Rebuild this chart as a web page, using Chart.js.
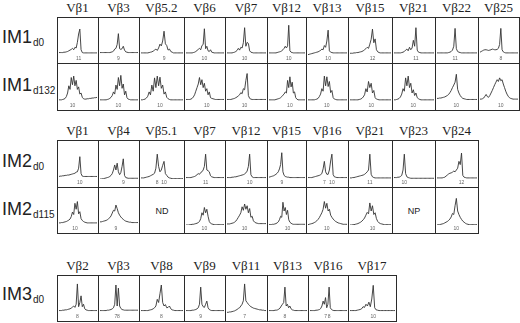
<!DOCTYPE html>
<html>
<head>
<meta charset="utf-8">
<script src="https://cdn.jsdelivr.net/npm/chart.js@4.4.0/dist/chart.umd.min.js"></script>
<style>
  body { margin: 0; width: 520px; height: 323px; background: #fff; position: relative; overflow: hidden; font-family: "Liberation Sans", Arial, sans-serif; }
  .box { position: absolute; box-sizing: border-box; border: 1px solid #2b2b2b; }
  .box canvas { position: absolute; left: 0; top: 0; }
  .head { position: absolute; text-align: center; font-family: "Liberation Serif", "Times New Roman", serif; font-size: 13px; line-height: 14px; color: #222; white-space: nowrap; }
  .row { position: absolute; left: 2px; font-size: 18px; line-height: 18px; color: #222; white-space: nowrap; }
  .row sub { font-size: 10px; vertical-align: baseline; position: relative; top: 3px; margin-left: 1px; }
  .na { position: absolute; left: 0; right: 0; top: 0; bottom: 0; display: flex; align-items: center; justify-content: center; font-size: 9px; color: #222; }
</style>
</head>
<body>
<script>
// Vβ families per patient
const im1Heads = ['Vβ1', 'Vβ3', 'Vβ5.2', 'Vβ6', 'Vβ7', 'Vβ12', 'Vβ13', 'Vβ15', 'Vβ21', 'Vβ22', 'Vβ25'];
const im2Heads = ['Vβ1', 'Vβ4', 'Vβ5.1', 'Vβ7', 'Vβ12', 'Vβ15', 'Vβ16', 'Vβ21', 'Vβ23', 'Vβ24'];
const im3Heads = ['Vβ2', 'Vβ3', 'Vβ8', 'Vβ9', 'Vβ11', 'Vβ13', 'Vβ16', 'Vβ17'];

// CDR3 length profiles (32 samples per trace), 'ND' / 'NP' when there is no trace
const im1d0 = [
  [0.7,0.7,0.7,0.7,0.8,0.8,0.9,1.0,1.2,1.4,1.6,1.9,1.5,2.2,2.0,3.6,6.0,7.4,1.5,0.7,0.6,0.6,0.6,0.6,0.6,0.6,0.6,0.6,0.6,0.6,0.6,0.6],
  [0.7,0.7,0.7,0.7,0.7,0.7,0.7,0.7,0.7,0.8,0.9,1.1,1.7,1.9,3.0,6.1,1.8,1.6,1.8,2.5,1.4,0.9,0.8,0.7,0.7,0.7,0.7,0.7,0.7,0.7,0.7,0.7],
  [0.6,0.6,0.6,0.6,0.6,0.6,0.7,0.8,0.9,1.1,1.4,1.7,1.3,2.0,3.1,2.6,4.0,6.8,3.2,2.7,1.4,1.7,1.0,0.8,0.6,0.6,0.6,0.6,0.6,0.6,0.6,0.6],
  [0.6,0.6,0.6,0.6,0.6,0.6,0.7,0.8,1.0,1.3,1.6,1.9,1.5,2.7,3.0,7.5,1.8,2.5,1.2,1.0,1.5,0.8,0.7,0.6,0.6,0.6,0.6,0.6,0.6,0.6,0.6,0.6],
  [0.6,0.6,0.6,0.6,0.6,0.7,0.8,1.0,1.3,1.9,1.4,2.2,2.0,3.5,7.8,2.5,3.6,3.3,1.2,0.8,0.7,0.6,0.6,0.6,0.6,0.6,0.6,0.6,0.6,0.6,0.6,0.6],
  [0.6,0.6,0.6,0.6,0.6,0.6,0.6,0.7,0.8,0.9,1.0,1.2,1.5,1.9,2.5,2.0,2.6,8.5,1.2,0.8,0.7,0.6,0.6,0.6,0.6,0.6,0.6,0.6,0.6,0.6,0.6,0.6],
  [0.1,0.2,0.3,0.4,0.5,0.6,0.7,0.8,0.9,1.1,1.3,1.7,1.5,2.7,2.2,4.0,7.1,1.2,0.8,0.7,0.6,0.6,0.6,0.6,0.6,0.6,0.6,0.6,0.6,0.6,0.6,0.6],
  [0.5,0.5,0.5,0.6,0.6,0.7,0.7,0.8,0.9,1.0,1.2,1.5,1.8,2.2,1.9,3.1,4.5,7.4,3.5,4.6,1.5,0.9,0.7,0.6,0.6,0.6,0.6,0.6,0.6,0.6,0.6,0.6],
  [0.6,0.6,0.6,0.6,0.6,0.6,0.7,0.8,1.0,1.4,1.7,1.2,2.2,1.5,2.0,4.2,2.5,7.8,1.4,0.8,0.7,0.6,0.6,0.6,0.6,0.6,0.6,0.6,0.6,0.6,0.6,0.6],
  [0.6,0.6,0.6,0.6,0.6,0.6,0.6,0.6,0.6,0.7,0.8,1.0,1.4,2.5,7.6,1.8,1.0,0.8,0.7,0.6,0.6,0.6,0.6,0.6,0.6,0.6,0.6,0.6,0.6,0.6,0.6,0.6],
  [0.8,1.0,1.2,1.4,1.5,1.5,1.4,1.3,1.4,1.5,1.7,1.6,1.5,1.5,1.6,1.9,3.0,7.6,1.5,0.9,0.7,0.6,0.6,0.6,0.6,0.6,0.6,0.6,0.6,0.6,0.6,0.6]
];
const im1d132 = [
  [0.6,0.6,0.6,0.7,0.8,1.0,1.5,2.5,4.5,3.5,6.8,4.8,7.2,4.5,6.0,3.5,4.2,2.2,2.5,1.3,0.9,0.8,0.8,0.9,0.9,1.0,1.0,1.1,1.1,1.2,1.2,1.3],
  [0.6,0.6,0.6,0.6,0.6,0.6,0.7,0.8,1.0,1.3,1.8,2.8,2.2,4.7,3.5,6.8,4.5,7.4,3.8,5.0,2.0,3.0,1.2,0.8,0.7,0.6,0.6,0.6,0.6,0.6,0.6,0.6],
  [0.6,0.6,0.7,0.8,1.1,1.6,2.8,2.0,4.7,3.0,6.7,4.0,7.2,4.5,6.9,3.8,4.7,2.2,2.8,1.3,0.9,0.7,0.6,0.6,0.6,0.6,0.6,0.6,0.6,0.6,0.6,0.6],
  [0.7,0.7,0.7,0.7,0.8,1.0,1.4,2.0,3.0,4.0,5.0,6.8,4.8,6.2,4.0,5.2,3.0,3.7,2.0,2.8,1.2,1.0,0.9,0.8,0.7,0.7,0.7,0.7,0.7,0.7,0.7,0.7],
  [0.7,0.7,0.7,0.7,0.8,0.9,1.0,1.2,1.4,1.7,2.0,2.6,2.3,3.7,3.4,6.0,7.9,1.8,1.0,0.8,0.7,0.7,0.7,0.7,0.7,0.7,0.7,0.7,0.7,0.7,0.7,0.7],
  [0.6,0.6,0.6,0.6,0.6,0.6,0.7,0.8,0.9,1.0,1.2,1.5,1.9,2.2,2.8,2.5,6.0,4.0,7.0,4.2,5.5,2.5,2.8,1.2,0.8,0.6,0.6,0.6,0.6,0.6,0.6,0.6],
  [0.6,0.6,0.6,0.6,0.6,0.6,0.7,0.8,1.0,1.5,2.2,3.7,3.0,7.2,4.5,7.0,4.3,5.7,2.6,3.2,1.2,0.8,0.7,0.6,0.6,0.6,0.6,0.6,0.6,0.6,0.6,0.6],
  [0.6,0.6,0.6,0.6,0.6,0.6,0.6,0.7,0.8,1.0,1.4,2.0,3.7,2.8,5.7,4.0,5.2,2.5,3.2,1.2,0.8,0.7,0.6,0.6,0.6,0.6,0.6,0.6,0.6,0.6,0.6,0.6],
  [0.6,0.6,0.7,0.8,1.0,1.4,2.2,3.7,3.0,6.7,4.5,7.2,4.0,5.2,2.5,3.4,1.8,2.5,1.2,0.9,0.7,0.6,0.6,0.6,0.6,0.6,0.6,0.6,0.6,0.6,0.6,0.6],
  [1.0,1.0,1.1,1.1,1.2,1.3,1.4,1.6,1.8,2.1,2.6,3.2,4.0,4.7,5.5,7.7,3.5,2.5,1.8,1.3,1.0,0.9,0.8,0.7,0.7,0.7,0.7,0.7,0.7,0.7,0.7,0.7],
  [0.8,0.8,0.9,1.1,1.6,2.1,1.5,1.3,1.8,2.5,3.2,4.0,4.8,5.5,6.2,5.7,6.7,5.9,6.2,5.0,4.0,3.0,2.2,1.6,1.2,1.0,0.9,0.8,0.8,0.8,0.8,0.8]
];
const im2d0 = [
  [0.7,0.8,0.8,0.9,0.9,1.0,1.0,1.1,1.1,1.2,1.3,1.4,1.5,1.6,1.9,2.0,3.0,6.2,1.5,0.8,0.7,0.7,0.7,0.7,0.7,0.7,0.7,0.7,0.7,0.7,0.7,0.7],
  [0.0,0.0,0.1,0.1,0.2,0.3,0.4,0.5,0.7,1.0,1.5,2.5,3.9,2.5,4.4,2.0,1.2,1.8,3.5,5.6,1.0,0.4,0.3,0.2,0.2,0.2,0.2,0.2,0.2,0.2,0.2,0.2],
  [0.3,0.3,0.3,0.4,0.5,0.6,0.7,0.9,1.1,1.3,1.6,3.0,6.9,3.5,2.0,2.5,3.8,4.9,1.5,1.0,0.5,0.3,0.2,0.1,0.1,0.1,0.1,0.1,0.1,0.1,0.1,0.1],
  [0.4,0.4,0.4,0.4,0.4,0.5,0.6,0.7,0.9,1.2,1.5,1.3,1.8,2.0,2.5,3.5,6.9,2.5,2.3,2.0,0.9,0.6,0.5,0.4,0.4,0.4,0.4,0.4,0.4,0.4,0.4,0.4],
  [0.4,0.4,0.4,0.4,0.5,0.5,0.6,0.6,0.7,0.8,0.9,1.0,1.1,1.2,1.4,1.7,2.2,3.5,6.9,1.2,0.6,0.4,0.4,0.4,0.4,0.4,0.4,0.4,0.4,0.4,0.4,0.4],
  [0.5,0.6,0.7,0.8,0.9,1.1,1.3,1.6,2.0,2.8,4.0,7.3,2.0,1.0,0.7,0.6,0.5,0.5,0.4,0.4,0.4,0.4,0.4,0.4,0.4,0.4,0.4,0.4,0.4,0.4,0.4,0.4],
  [0.4,0.4,0.4,0.4,0.5,0.6,0.7,0.8,0.9,1.0,1.2,1.5,2.8,4.9,2.0,1.3,1.3,2.5,5.0,6.9,1.2,0.6,0.5,0.4,0.4,0.4,0.4,0.4,0.4,0.4,0.4,0.4],
  [0.3,0.3,0.4,0.4,0.5,0.6,0.7,0.8,0.9,1.0,1.1,1.3,1.6,2.0,2.5,6.9,1.3,0.6,0.4,0.3,0.3,0.3,0.3,0.3,0.3,0.3,0.3,0.3,0.3,0.3,0.3,0.3],
  [0.4,0.4,0.4,0.5,0.5,0.7,1.0,2.5,6.9,1.5,0.6,0.4,0.3,0.2,0.2,0.2,0.2,0.2,0.2,0.2,0.2,0.2,0.2,0.2,0.2,0.2,0.2,0.2,0.2,0.2,0.2,0.2],
  [0.3,0.3,0.3,0.3,0.3,0.4,0.5,0.8,1.1,1.4,1.6,1.7,1.9,2.2,2.0,2.5,3.0,4.9,4.0,7.2,1.0,0.5,0.4,0.3,0.3,0.3,0.3,0.3,0.3,0.3,0.3,0.3]
];
const im2d115 = [
  [0.6,0.6,0.7,0.7,0.8,0.9,1.0,1.2,1.4,1.7,2.4,3.7,3.0,6.2,4.5,6.7,3.2,3.8,1.8,1.3,1.0,0.8,0.7,0.6,0.6,0.6,0.6,0.6,0.6,0.6,0.6,0.6],
  [0.9,0.9,1.0,1.1,1.2,1.3,1.5,1.8,2.1,2.6,3.4,4.2,4.0,5.7,4.7,3.5,2.8,2.3,1.9,1.6,1.3,1.1,1.0,0.9,0.8,0.8,0.7,0.7,0.7,0.7,0.7,0.7],
  'ND',
  [0.0,0.0,0.0,0.1,0.1,0.2,0.2,0.3,0.4,0.5,0.7,1.0,1.8,3.5,2.8,5.0,3.5,4.5,2.5,1.0,0.5,0.3,0.2,0.1,0.1,0.1,0.1,0.1,0.1,0.1,0.1,0.1],
  [0.3,0.3,0.3,0.4,0.5,0.6,0.8,1.1,1.6,2.2,2.8,3.5,5.2,4.2,6.0,4.5,5.5,3.5,4.7,2.2,2.5,1.2,0.8,0.6,0.5,0.4,0.4,0.4,0.4,0.4,0.4,0.4],
  [0.1,0.1,0.1,0.2,0.2,0.3,0.4,0.6,0.9,1.5,2.5,2.2,6.5,4.0,5.0,3.0,4.2,1.5,0.8,0.5,0.3,0.2,0.2,0.2,0.2,0.2,0.2,0.2,0.2,0.2,0.2,0.2],
  [0.1,0.2,0.3,0.4,0.5,0.7,0.9,1.2,1.6,2.1,2.8,3.5,4.5,6.7,4.8,6.2,4.0,4.5,2.8,2.2,1.7,1.3,1.0,0.8,0.6,0.5,0.4,0.3,0.2,0.2,0.2,0.2],
  [0.0,0.0,0.1,0.1,0.2,0.3,0.4,0.6,0.8,1.1,1.5,2.0,2.8,3.6,3.2,6.3,4.0,5.5,3.0,3.5,1.8,1.0,0.6,0.4,0.3,0.2,0.1,0.1,0.1,0.1,0.1,0.1],
  'NP',
  [0.0,0.1,0.1,0.2,0.3,0.4,0.6,0.8,1.0,1.3,1.7,2.3,3.3,3.0,5.5,7.6,4.0,3.0,2.2,1.6,1.1,0.8,0.5,0.3,0.2,0.1,0.1,0.1,0.1,0.1,0.1,0.1]
];
const im3d0 = [
  [0.7,0.7,0.7,0.8,0.8,0.9,0.9,1.0,1.1,1.2,1.4,1.7,2.0,1.6,2.5,8.3,1.8,3.0,4.9,1.8,2.5,1.2,0.9,0.8,0.7,0.7,0.7,0.7,0.7,0.7,0.7,0.7],
  [0.7,0.7,0.7,0.7,0.7,0.7,0.8,0.8,0.9,1.0,1.2,1.5,2.5,8.0,2.0,7.1,2.0,1.3,1.0,0.9,0.8,0.8,0.8,0.8,0.8,0.8,0.8,0.8,0.8,0.8,0.8,0.8],
  [0.7,0.7,0.7,0.7,0.7,0.7,0.8,0.9,1.0,1.2,1.5,2.0,3.9,3.0,5.5,8.0,3.0,2.0,2.4,1.5,1.6,2.0,1.2,0.9,0.8,0.7,0.7,0.7,0.7,0.7,0.7,0.7],
  [0.7,0.7,0.7,0.7,0.7,0.8,0.8,0.9,1.0,1.2,1.5,2.5,7.4,2.5,1.8,1.6,2.5,3.4,1.5,1.0,0.8,0.7,0.7,0.7,0.7,0.7,0.7,0.7,0.7,0.7,0.7,0.7],
  [0.2,0.2,0.3,0.3,0.4,0.5,0.6,0.8,1.0,1.3,1.5,2.0,2.5,3.5,8.3,3.5,3.0,2.5,2.1,1.8,1.6,1.4,1.3,1.2,1.1,1.0,0.9,0.9,0.8,0.8,0.7,0.7],
  [0.7,0.7,0.7,0.7,0.7,0.8,0.8,0.9,1.1,1.4,2.0,2.5,3.0,7.4,2.0,2.5,1.5,2.0,1.2,0.9,0.8,0.7,0.7,0.7,0.7,0.7,0.7,0.7,0.7,0.7,0.7,0.7],
  [0.7,0.7,0.7,0.7,0.7,0.8,0.8,0.9,1.0,1.3,2.0,3.4,2.5,4.4,1.5,2.5,7.4,1.5,1.0,0.8,0.7,0.7,0.7,0.7,0.7,0.7,0.7,0.7,0.7,0.7,0.7,0.7],
  [0.7,0.7,0.7,0.7,0.7,0.8,0.9,1.0,1.2,1.8,1.6,2.5,2.0,3.1,1.8,4.0,7.9,1.5,0.9,0.8,0.7,0.7,0.7,0.7,0.7,0.7,0.7,0.7,0.7,0.7,0.7,0.7]
];

// CDR3 lengths written under the peaks: [sample index, length]
const im1d0Marks = [[[16,'11']], [[15,'9']], [[17,'9']], [[15,'10']], [[14,'10']], [[17,'10']], [[16,'10']], [[17,'12']], [[17,'11']], [[14,'11']], [[17,'8']]];
const im1d132Marks = [[[11,'10']], [[15,'10']], [[14,'10']], [[17,'10']], [[14,'10']], [[18,'10']], [[15,'10']], [[16,'10']], [[15,'10']], [[15,'10']], [[17,'10']]];
const im2d0Marks = [[[17,'10']], [[19,'9']], [[12,'8'],[17,'10']], [[16,'11']], [[18,'10']], [[11,'9']], [[13,'7'],[19,'10']], [[15,'11']], [[8,'10']], [[19,'12']]];
const im2d115Marks = [[[13,'10']], [[13,'9']], [], [[15,'10']], [[14,'10']], [[16,'10']], [[15,'10']], [[17,'10']], [], [[15,'10']]];
const im3d0Marks = [[[15,'8']], [[13,'7'],[15,'8']], [[15,'8']], [[12,'9']], [[14,'7']], [[13,'8']], [[13,'7'],[16,'8']], [[16,'10']]];

// page layout (px)
const groups = [
  { heads: im1Heads, edges: [57, 98, 139, 184, 225, 267, 306, 348, 392, 435, 478, 519],
    rows: [
      { name: 'IM1', day: 'd0', top: 17, bottom: 63, data: im1d0, marks: im1d0Marks, labelTop: 28 },
      { name: 'IM1', day: 'd132', top: 63, bottom: 110, data: im1d132, marks: im1d132Marks, labelTop: 76 }
    ] },
  { heads: im2Heads, edges: [57, 98, 139, 184, 225, 267, 306, 348, 392, 435, 478],
    rows: [
      { name: 'IM2', day: 'd0', top: 140, bottom: 187, data: im2d0, marks: im2d0Marks, labelTop: 152 },
      { name: 'IM2', day: 'd115', top: 187, bottom: 233, data: im2d115, marks: im2d115Marks, labelTop: 200 }
    ] },
  { heads: im3Heads, edges: [57, 98, 139, 184, 225, 267, 308, 348, 396],
    rows: [
      { name: 'IM3', day: 'd0', top: 275, bottom: 321, data: im3d0, marks: im3d0Marks, labelTop: 285 }
    ] }
];

function addPanel(x0, x1, y0, y1, profile, marks) {
  const box = document.createElement('div');
  box.className = 'box';
  box.style.left = x0 + 'px';
  box.style.top = y0 + 'px';
  box.style.width = (x1 - x0 + 1) + 'px';
  box.style.height = (y1 - y0 + 1) + 'px';
  document.body.appendChild(box);

  if (typeof profile === 'string') {
    const t = document.createElement('div');
    t.className = 'na';
    t.textContent = profile;
    box.appendChild(t);
    return;
  }

  const cv = document.createElement('canvas');
  cv.width = x1 - x0 - 1;
  cv.height = y1 - y0 - 1;
  box.appendChild(cv);

  new Chart(cv.getContext('2d'), {
    type: 'line',
    data: {
      labels: profile.map((v, i) => i),
      datasets: [{
        data: profile,
        borderColor: '#333',
        borderWidth: 0.9,
        pointRadius: 0,
        tension: 0,
        fill: false
      }]
    },
    options: {
      responsive: false,
      animation: false,
      events: [],
      layout: { padding: { top: 2, left: 1, right: 1, bottom: 0 } },
      plugins: { legend: { display: false }, tooltip: { enabled: false } },
      scales: {
        y: { display: false, min: 0, max: 10 },
        x: {
          grid: { display: false, drawTicks: false },
          border: { display: false },
          ticks: {
            autoSkip: false,
            maxRotation: 0,
            padding: 1,
            color: '#666',
            font: { size: 5, family: 'Liberation Sans' },
            callback: function(value, index) {
              const m = marks.find(p => p[0] === index);
              return m ? m[1] : '';
            }
          }
        }
      }
    }
  });
}

groups.forEach(g => {
  g.heads.forEach((h, c) => {
    const d = document.createElement('div');
    d.className = 'head';
    d.style.left = g.edges[c] + 'px';
    d.style.width = (g.edges[c + 1] - g.edges[c]) + 'px';
    d.style.top = (g.rows[0].top - 16) + 'px';
    d.textContent = h;
    document.body.appendChild(d);
  });
  g.rows.forEach(r => {
    const lab = document.createElement('div');
    lab.className = 'row';
    lab.style.top = r.labelTop + 'px';
    lab.innerHTML = r.name + '<sub>' + r.day + '</sub>';
    document.body.appendChild(lab);
    r.data.forEach((profile, c) => {
      addPanel(g.edges[c], g.edges[c + 1], r.top, r.bottom, profile, r.marks[c]);
    });
  });
});
</script>
</body>
</html>
